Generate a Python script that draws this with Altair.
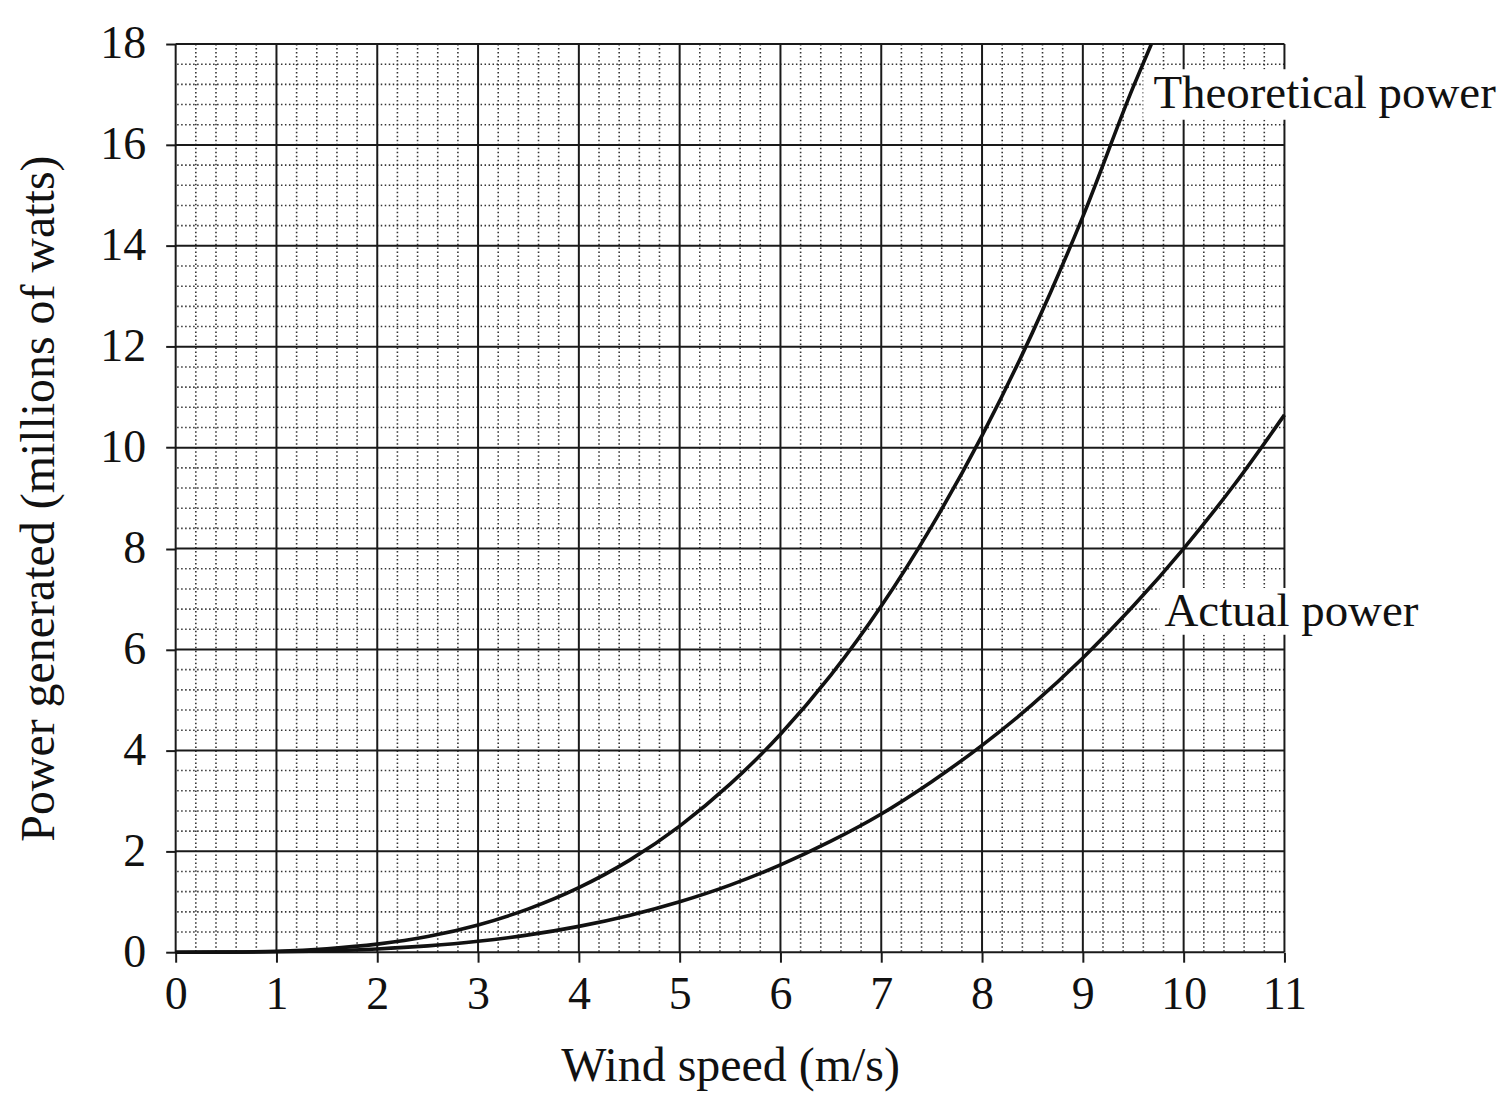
import altair as alt
import pandas as pd
import numpy as np

# Data
theo_x = [0, 0.5, 1, 1.5, 2, 2.5, 3, 3.5, 4, 4.5, 5, 5.5, 6, 6.5, 7, 7.5, 8, 8.5, 9, 9.5, 9.68]
theo_y = [0, 0.003, 0.02, 0.07, 0.16, 0.31, 0.54, 0.86, 1.28, 1.82, 2.5, 3.33, 4.32, 5.49, 6.86, 8.44, 10.24, 12.28, 14.58, 17.15, 18.0]
act_x = [0, 0.5, 1, 1.5, 2, 2.5, 3, 3.5, 4, 4.5, 5, 5.5, 6, 6.5, 7, 7.5, 8, 8.5, 9, 9.5, 10, 10.5, 11]
act_y = [0, 0.001, 0.008, 0.027, 0.064, 0.125, 0.216, 0.343, 0.512, 0.729, 1.0, 1.33, 1.73, 2.2, 2.74, 3.38, 4.1, 4.91, 5.83, 6.86, 8.0, 9.26, 10.65]

x_ticks = list(range(0, 12))
y_ticks = list(range(0, 19, 2))
x_minor = [round(v, 1) for v in np.arange(0, 11.01, 0.2) if abs(v - round(v)) > 1e-6]
y_minor = [round(v, 1) for v in np.arange(0, 18.01, 0.4) if abs(v / 2 - round(v / 2)) > 1e-6]

labels = ["Theoretical power", "Actual power"]
label_x = [9.7, 9.81]
label_y = [17.0, 6.75]
box_x = [9.6, 9.76]
box_x2 = [11.3, 11.3]
box_y = [16.5, 6.29]
box_y2 = [17.5, 7.22]

FONT = "Liberation Serif"

xs = alt.Scale(domain=[0, 11], nice=False)
ys = alt.Scale(domain=[0, 18], nice=False)

curves = pd.DataFrame({
    "x": theo_x + act_x,
    "y": theo_y + act_y,
    "series": ["Theoretical"] * len(theo_x) + ["Actual"] * len(act_x),
})

base_axes = alt.Chart(pd.DataFrame({"x": [0], "y": [0]})).mark_point(opacity=0).encode(
    x=alt.X("x:Q", scale=xs, title="Wind speed (m/s)",
            axis=alt.Axis(values=x_ticks, format="d", grid=False,
                          tickSize=10, tickWidth=2, tickColor="#1a1a1a",
                          domain=False, labelPadding=10, titlePadding=26,
                          labelFlush=False, labelOverlap=False)),
    y=alt.Y("y:Q", scale=ys, title="Power  generated (millions of watts)",
            axis=alt.Axis(values=y_ticks, format="d", grid=False,
                          tickSize=10, tickWidth=2, tickColor="#1a1a1a",
                          domain=False, labelPadding=20, titlePadding=36,
                          labelFlush=False, labelOverlap=False)),
)

vminor = alt.Chart(pd.DataFrame({"x": x_minor})).mark_rule(
    color="#333333", strokeWidth=1.6, strokeDash=[1.5, 2.5]
).encode(x=alt.X("x:Q", scale=xs))

hminor = alt.Chart(pd.DataFrame({"y": y_minor})).mark_rule(
    color="#333333", strokeWidth=1.6, strokeDash=[1.5, 2.5]
).encode(y=alt.Y("y:Q", scale=ys))

vmajor = alt.Chart(pd.DataFrame({"x": x_ticks})).mark_rule(
    color="#1a1a1a", strokeWidth=2
).encode(x=alt.X("x:Q", scale=xs))

hmajor = alt.Chart(pd.DataFrame({"y": y_ticks})).mark_rule(
    color="#1a1a1a", strokeWidth=2
).encode(y=alt.Y("y:Q", scale=ys))

lines = alt.Chart(curves).mark_line(
    color="#111111", strokeWidth=3.6, interpolate="monotone"
).encode(
    x=alt.X("x:Q", scale=xs),
    y=alt.Y("y:Q", scale=ys),
    detail="series:N",
)

box_df = pd.DataFrame({"bx": box_x, "bx2": box_x2, "by": box_y, "by2": box_y2})
lab_df = pd.DataFrame({"label": labels, "lx": label_x, "ly": label_y})

boxes = alt.Chart(box_df).mark_rect(color="white", opacity=1).encode(
    x=alt.X("bx:Q", scale=xs), x2=alt.X2("bx2"),
    y=alt.Y("by:Q", scale=ys), y2=alt.Y2("by2"),
)

texts = alt.Chart(lab_df).mark_text(
    font=FONT, fontSize=47, align="left", baseline="middle", color="#111111"
).encode(
    x=alt.X("lx:Q", scale=xs),
    y=alt.Y("ly:Q", scale=ys),
    text="label:N",
)

chart = alt.layer(base_axes, vminor, hminor, vmajor, hmajor, lines, boxes, texts).properties(
    width=1111, height=910,
    autosize=alt.AutoSizeParams(type="none"),
    padding={"left": 168, "top": 35, "right": 220, "bottom": 150},
).configure_axis(
    labelFont=FONT, titleFont=FONT, labelFontSize=46, titleFontSize=48,
    labelColor="#111111", titleColor="#111111", titleFontWeight="normal",
).configure_view(stroke=None)

chart.save("out.html", embed_options={"renderer": "svg", "actions": False})
